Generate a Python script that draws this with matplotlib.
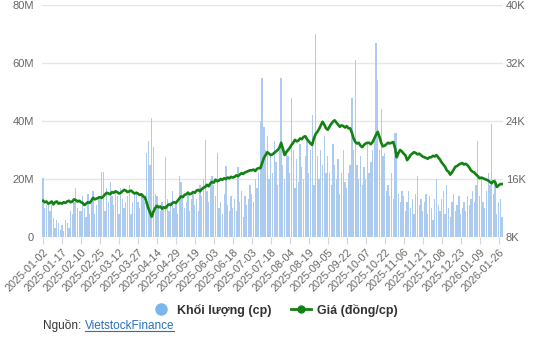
import numpy as np
import pandas as pd
import matplotlib
matplotlib.use("Agg")
import matplotlib.pyplot as plt
from matplotlib.lines import Line2D

plt.rcParams['font.family'] = ['Liberation Sans', 'DejaVu Sans']

###############################################################################
# Data: daily volume (million shares) and close price (thousand VND)
###############################################################################
volume = [
    20.5, 10, 11, 12, 9, 11, 6.5, 3, 6, 5, 2.5,
    4, 2, 6, 5, 3, 9, 8, 12, 17, 10, 9,
    9, 14, 10, 7, 15, 8, 12, 16, 8, 11, 14,
    13, 22.5, 22.5, 9, 17, 12, 19, 14, 11, 16, 14,
    8, 17, 13, 10, 12, 14, 18, 8, 12, 15, 16,
    12, 10, 14, 15, 12, 29, 33, 25, 41, 31, 15,
    14, 11, 9, 12, 10, 27.5, 13, 9, 12, 16, 10,
    12, 8, 21, 19, 14, 10, 12, 16, 9, 13, 15,
    11, 13, 9, 18, 14, 20, 33.5, 16, 12, 20, 21,
    18, 14, 29, 10, 12, 8, 15, 24.5, 11, 9, 14,
    10, 13, 9, 24, 12, 16, 7, 14, 11, 13, 18,
    15, 12, 20, 17, 22, 40, 55, 38, 30, 35, 20,
    28, 22, 33, 26, 18, 30, 55, 25, 20, 30, 28,
    22, 48, 30, 17, 27, 19, 32, 24, 20, 28, 33,
    22, 30, 42, 18, 70, 28, 20, 30, 25, 35, 22,
    28, 22, 18, 32, 25, 20, 27, 15, 22, 30, 19,
    17, 22, 25, 48, 30, 61, 25, 20, 28, 18, 24,
    20, 32, 22, 26, 30, 35, 67, 54, 30, 44, 28,
    29, 16, 18, 14, 22, 13, 36, 36, 15, 12, 16,
    14, 9, 12, 16, 10, 13, 8, 15, 21, 11, 13,
    9, 12, 15, 8, 14, 10, 6, 13, 20, 11, 9,
    13, 16, 8, 18, 10, 7, 12, 15, 9, 11, 14,
    8, 10, 12, 9, 14, 11, 13, 16, 12, 18, 33,
    14, 20, 12, 10, 16, 22, 18, 39, 15, 20, 8,
    12, 13, 7,
]

price = [
    13.0, 12.8, 12.9, 12.6, 12.7, 12.9, 12.5, 12.8, 12.9, 12.6, 12.7,
    12.6, 12.8, 12.7, 12.9, 13.0, 12.8, 12.9, 13.2, 13.1, 12.9, 13.0,
    12.8, 12.7, 12.4, 12.6, 12.8, 12.7, 13.0, 13.4, 13.2, 13.3, 13.4,
    13.5, 13.4, 13.6, 13.9, 14.1, 14.0, 13.9, 14.2, 14.1, 14.3, 14.2,
    14.0, 14.1, 14.3, 14.5, 14.4, 14.2, 14.3, 14.4, 14.2, 14.0, 14.1,
    14.0, 13.8, 13.9, 13.6, 13.5, 12.8, 12.0, 11.4, 10.8, 11.5, 12.0,
    12.3, 12.1, 12.2, 11.9, 12.1, 12.0, 12.3, 12.5, 12.4, 12.7, 12.8,
    12.7, 13.0, 13.3, 13.6, 13.5, 13.8, 13.9, 14.1, 13.9, 14.0, 14.2,
    14.1, 14.4, 14.5, 14.3, 14.6, 14.8, 14.9, 15.2, 15.0, 15.4, 15.6,
    15.5, 15.9, 15.7, 15.8, 16.0, 15.9, 16.1, 16.0, 16.2, 16.1, 16.3,
    16.2, 16.3, 16.5, 16.4, 16.6, 16.8, 16.7, 16.9, 17.0, 17.1, 17.2,
    17.2, 17.3, 17.1, 17.4, 17.5, 17.5, 18.2, 18.9, 19.3, 19.7, 19.5,
    19.3, 19.4, 19.6, 19.8, 20.0, 20.3, 21.0, 20.2, 19.3, 19.7, 20.0,
    20.3, 20.7, 21.0, 21.4, 21.2, 21.3, 21.6, 21.5, 21.8, 21.9, 21.5,
    21.2, 20.9, 20.7, 21.6, 22.2, 22.5, 22.9, 23.4, 23.9, 23.5, 23.0,
    22.8, 23.2, 23.6, 23.9, 24.1, 23.8, 23.5, 23.2, 23.4, 23.3, 23.1,
    23.3, 23.0, 23.0, 22.4, 21.6, 21.1, 20.9, 21.0, 20.6, 20.4, 20.7,
    20.9, 21.0, 21.0, 20.8, 21.1, 21.6, 22.1, 22.5, 21.8, 21.0, 20.5,
    20.6, 20.8, 21.0, 20.9, 21.0, 21.1, 20.3, 19.0, 19.6, 20.0, 19.8,
    19.5, 19.3, 18.6, 18.9, 19.3, 19.5, 19.7, 19.6, 19.4, 19.5, 19.3,
    19.1, 19.0, 18.9, 18.8, 19.0, 19.0, 19.2, 19.1, 19.3, 19.0, 18.7,
    18.3, 18.0, 17.7, 17.2, 17.0, 16.6, 16.9, 17.3, 17.7, 17.8, 18.0,
    18.1, 18.2, 18.0, 18.1, 17.9, 17.6, 17.2, 17.0, 16.9, 16.6, 16.4,
    16.1, 16.2, 16.1, 16.0, 15.9, 15.8, 15.6, 15.4, 15.7, 15.6, 14.9,
    15.1, 15.3, 15.3,
]

# market holidays inside the period
holidays = ["2025-01-27", "2025-01-28", "2025-01-29", "2025-01-30", "2025-01-31",
            "2025-04-07", "2025-04-30", "2025-05-01", "2025-05-02",
            "2025-09-01", "2025-09-02", "2026-01-01", "2026-01-02"]

days = pd.bdate_range("2025-01-02", "2026-02-27")
days = days[~days.isin(pd.to_datetime(holidays))][:len(volume)]
labels = [d.strftime("%Y-%m-%d") for d in days]
n = np.arange(len(volume))

###############################################################################
# Plot
###############################################################################
fig = plt.figure(figsize=(5.38, 3.46), dpi=100)
ax = fig.add_axes([0.078, 0.315, 0.857, 0.6705])
ax2 = ax.twinx()

ax.bar(n, np.array(volume) * 1e6, width=0.75, color="#accbee", zorder=2)
ax2.plot(n, price, color="#128212", lw=1.9, zorder=3)

ax.set_xlim(-0.6, len(volume) - 0.4)
ax.set_ylim(0, 80e6)
ax2.set_ylim(8, 40)
ax.set_yticks([0, 20e6, 40e6, 60e6, 80e6])
ax.set_yticklabels(["0", "20M", "40M", "60M", "80M"])
ax2.set_yticks([8, 16, 24, 32, 40])
ax2.set_yticklabels(["8K", "16K", "24K", "32K", "40K"])

tick_pos = n[::11]
ax.set_xticks(tick_pos)
ax.set_xticklabels([labels[i] for i in tick_pos], rotation=45, ha="right",
                   rotation_mode="anchor")

ax.grid(axis="y", color="#e6e6e6", lw=1, zorder=0)
ax.set_axisbelow(True)
for a in (ax, ax2):
    for s in a.spines.values():
        s.set_visible(False)
ax.tick_params(axis="y", length=0, labelsize=8, labelcolor="#666666", pad=6)
ax2.tick_params(axis="y", length=0, labelsize=8, labelcolor="#666666", pad=2)
ax.tick_params(axis="x", length=5, color="#ccd6eb", labelsize=7.8,
               labelcolor="#666666", pad=2)

# legend
handles = [
    Line2D([], [], ls="none", marker="o", ms=8, color="#7cb5ec"),
    Line2D([], [], color="#128212", lw=2, marker="o", ms=5),
]
fig.legend(handles, ["Khối lượng (cp)", "Giá (đồng/cp)"], loc="center",
           bbox_to_anchor=(0.51, 0.103), ncol=2, frameon=False,
           prop={"size": 9, "weight": "bold"}, labelcolor="#333333",
           handlelength=1.6, columnspacing=1.5, handletextpad=0.5)

# source line
t1 = fig.text(0.08, 0.05, "Nguồn: ", fontsize=8.5, color="#333333", va="baseline")
fig.canvas.draw()
r = fig.canvas.get_renderer()
bb = t1.get_window_extent(r).transformed(fig.transFigure.inverted())
t2 = fig.text(bb.x1, 0.05, "VietstockFinance", fontsize=8.5, color="#2a6ebb",
              va="baseline")
bb2 = t2.get_window_extent(r).transformed(fig.transFigure.inverted())
fig.add_artist(Line2D([bb2.x0, bb2.x1], [0.044, 0.044], color="#2a6ebb", lw=0.8))

fig.savefig("out.png", dpi=100, facecolor="white")
